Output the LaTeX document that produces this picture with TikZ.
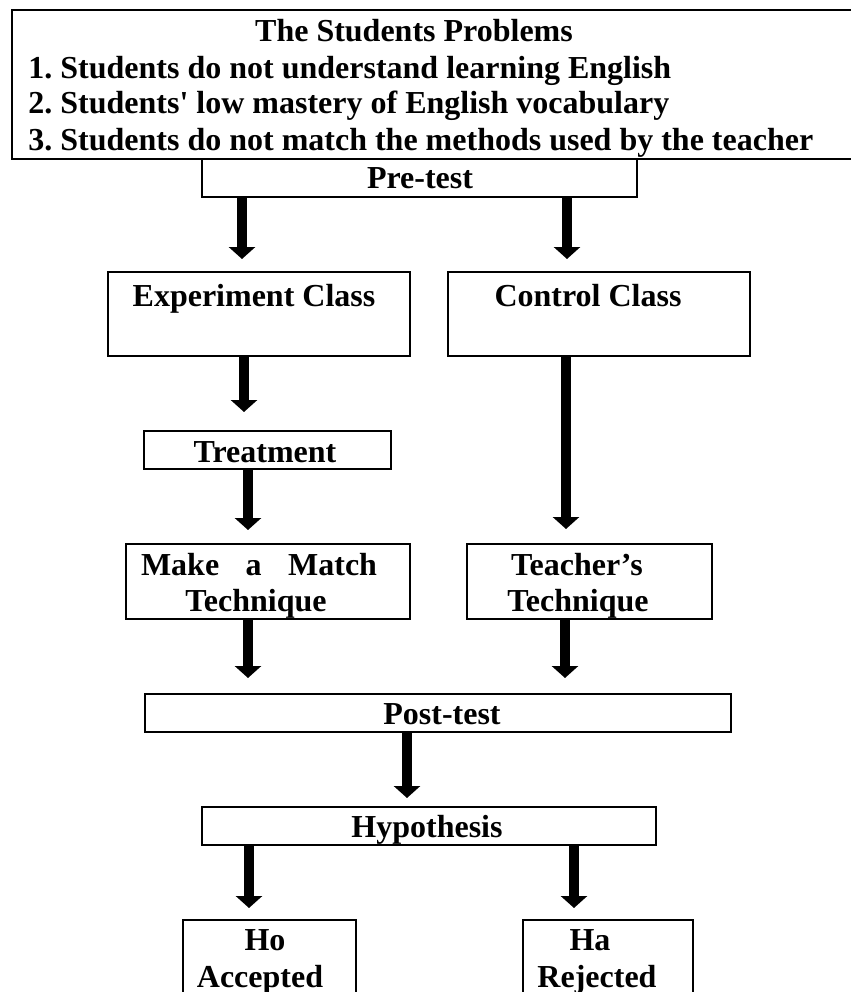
\documentclass[tikz,border=0pt]{standalone}
\usepackage{fontspec}
\setmainfont{Liberation Serif}
\usetikzlibrary{arrows.meta}
\frenchspacing
\begin{document}
\begin{tikzpicture}[x=0.5pt,y=-0.5pt,
  box/.style={draw, line width=1pt, rectangle, inner sep=0pt},
  txt/.style={inner sep=0pt, anchor=base, font=\fontsize{16pt}{18pt}\selectfont\bfseries\frenchspacing},
  txtl/.style={txt, anchor=base west},
  fat/.style={line width=5pt, -{Triangle[width=13pt,length=6pt]}}]
\useasboundingbox (0,0) rectangle (851,992);
\clip (0,0) rectangle (851,992);
\fill[white] (0,0) rectangle (851,992);
% boxes
\node[box, minimum width=429pt, minimum height=74.5pt] (prob) at (441,84.5) {};
\node[box, minimum width=217.5pt, minimum height=19pt] (pre) at (419.5,178) {};
\node[box, minimum width=151pt, minimum height=42pt] (exp) at (259,314) {};
\node[box, minimum width=151pt, minimum height=42pt] (ctl) at (599,314) {};
\node[box, minimum width=123.5pt, minimum height=19pt] (treat) at (267.5,450) {};
\node[box, minimum width=142pt, minimum height=37.5pt] (mam) at (268,581.5) {};
\node[box, minimum width=122.5pt, minimum height=37.5pt] (tch) at (589.5,581.5) {};
\node[box, minimum width=293pt, minimum height=19pt] (post) at (438,713) {};
\node[box, minimum width=227pt, minimum height=19pt] (hyp) at (429,826) {};
\node[box, minimum width=86.5pt, minimum height=45pt] (ho) at (269.5,965) {};
\node[box, minimum width=85pt, minimum height=45pt] (ha) at (608,965) {};
% texts
\node[txt] (t0) at (414,41) {The Students Problems};
\node[txtl] (t1) at (28,78) {1. Students do not understand learning English};
\node[txtl] (t2) at (28,113) {2. Students\textquotesingle{} low mastery of English vocabulary};
\node[txtl] (t3) at (28,150) {3. Students do not match the methods used by the teacher};
\node[txt] (tpre) at (420,188) {Pre-test};
\node[txt] (texp) at (254,306) {Experiment Class};
\node[txt] (tctl) at (588,306) {Control Class};
\node[txt] (ttreat) at (265,462) {Treatment};
\node[txt] (tmam1) at (259,575) {\makebox[118pt][s]{Make\hfill a\hfill Match}};
\node[txt] (tmam2) at (256,611) {Technique};
\node[txt] (ttch1) at (577,575) {Teacher’s};
\node[txt] (ttch2) at (578,611) {Technique};
\node[txt] (tpost) at (442,724) {Post-test};
\node[txt] (thyp) at (427,837) {Hypothesis};
\node[txt] (tho1) at (265,950) {Ho};
\node[txt] (tho2) at (260,987) {Accepted};
\node[txt] (tha1) at (590,950) {Ha};
\node[txt] (tha2) at (597,987) {Rejected};
% arrow columns
\coordinate (a1) at (242,0);
\coordinate (a2) at (567,0);
\coordinate (a3) at (244,0);
\coordinate (a4) at (566,0);
\coordinate (a5) at (248,0);
\coordinate (a6) at (248,0);
\coordinate (a7) at (565,0);
\coordinate (a8) at (407,0);
\coordinate (a9) at (249,0);
\coordinate (a10) at (574,0);
% arrows
\draw[fat, shorten >=6pt] (pre.south -| a1) -- (exp.north -| a1);
\draw[fat, shorten >=6pt] (pre.south -| a2) -- (ctl.north -| a2);
\draw[fat, shorten >=9pt] (exp.south -| a3) -- (treat.north -| a3);
\draw[fat, shorten >=7pt] (ctl.south -| a4) -- (tch.north -| a4);
\draw[fat, shorten >=6.5pt] (treat.south -| a5) -- (mam.north -| a5);
\draw[fat, shorten >=7.5pt] (mam.south -| a6) -- (post.north -| a6);
\draw[fat, shorten >=7.5pt] (tch.south -| a7) -- (post.north -| a7);
\draw[fat, shorten >=4pt] (post.south -| a8) -- (hyp.north -| a8);
\draw[fat, shorten >=5.5pt] (hyp.south -| a9) -- (ho.north -| a9);
\draw[fat, shorten >=5.5pt] (hyp.south -| a10) -- (ha.north -| a10);
\end{tikzpicture}
\end{document}
